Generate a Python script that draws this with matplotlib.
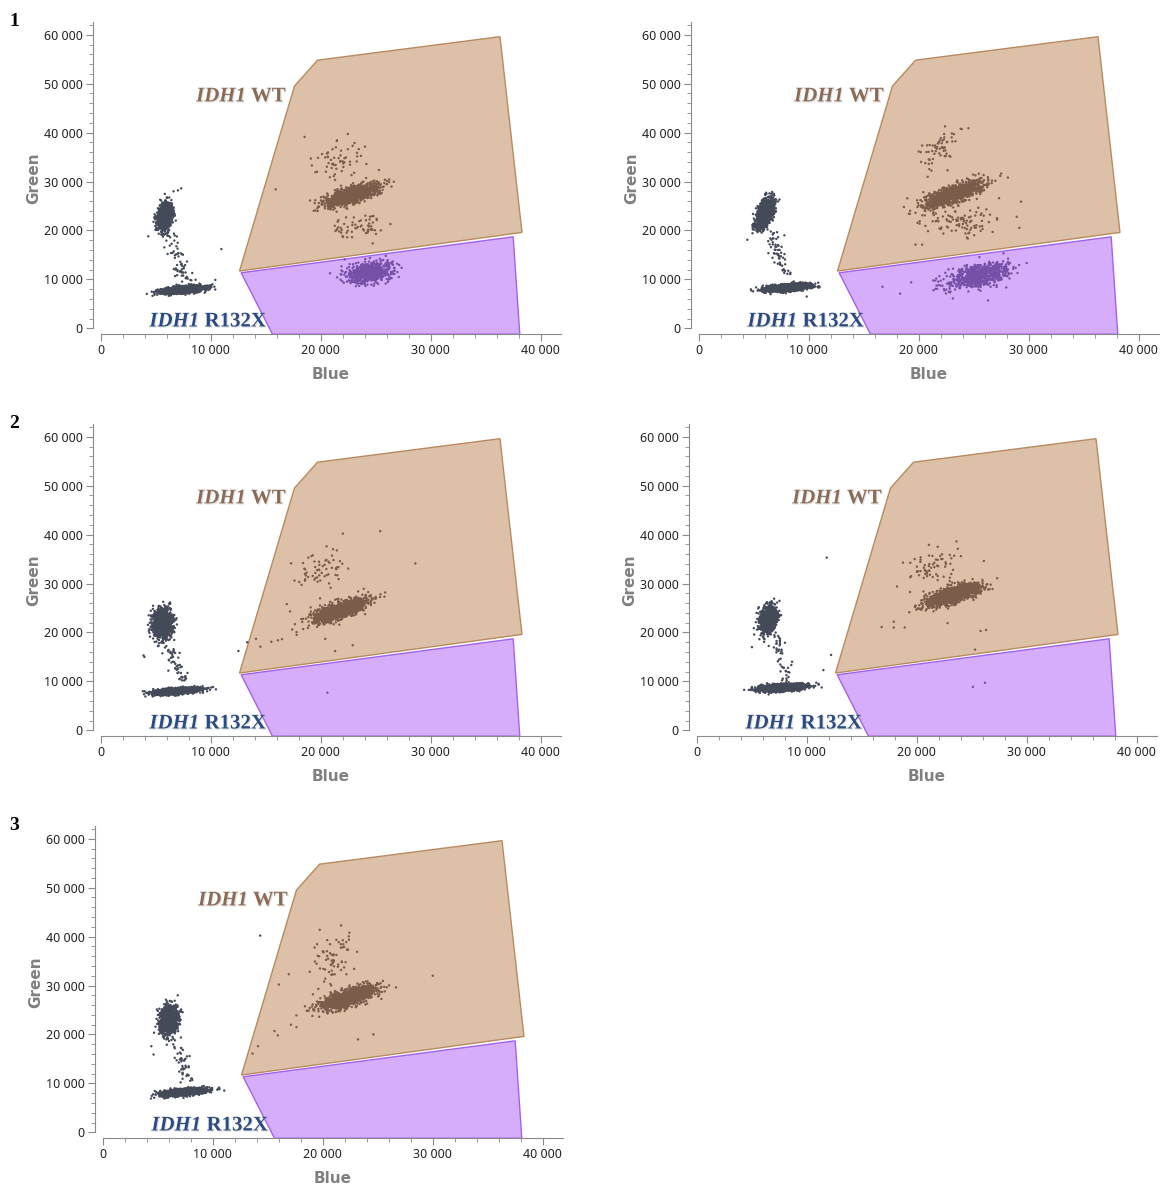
import numpy as np
import matplotlib.pyplot as plt
import matplotlib.patheffects as pe
from matplotlib.path import Path
from matplotlib.patches import Polygon
from matplotlib.ticker import MultipleLocator, FuncFormatter

# gates (Blue, Green) as drawn by the droplet reader
wt_gate_x = [12600, 17600, 19700, 36300, 38300]
wt_gate_y = [11700, 49500, 54800, 59600, 19600]
mut_gate_x = [12750, 37500, 38100, 15600]
mut_gate_y = [11350, 18700, -1200, -1200]

# droplet clouds per panel: (blue, green, sd blue, sd green, corr, count)
p1_clouds = [(7500, 7900, 900, 380, 0.5, 1500), (5800, 23000, 330, 1300, 0.2, 1100),
             (22900, 27300, 1150, 1050, 0.68, 1200), (21700, 34800, 1200, 2100, 0.0, 60),
             (23500, 20800, 1500, 1200, 0.0, 60), (24400, 11400, 1050, 1100, 0.3, 650)]
p2_clouds = [(8000, 8300, 1000, 380, 0.5, 1500), (6000, 23500, 380, 1500, 0.5, 1100),
             (23200, 27500, 1300, 1300, 0.75, 1200), (22000, 36800, 800, 1800, 0.3, 60),
             (24000, 22000, 1800, 1800, 0.0, 100), (25500, 10800, 1400, 1300, 0.5, 750)]
p3_clouds = [(6800, 8000, 1000, 350, 0.5, 1500), (5600, 21800, 430, 1500, 0.0, 1100),
             (21700, 24500, 1250, 1200, 0.72, 1200), (20000, 32500, 1100, 2000, 0.3, 60)]
p4_clouds = [(7700, 8700, 1000, 380, 0.4, 1500), (6500, 22700, 400, 1300, 0.3, 1100),
             (23300, 27700, 1200, 1150, 0.7, 1200), (21700, 33500, 1300, 1700, 0.3, 60)]
p5_clouds = [(7300, 8200, 1000, 380, 0.5, 1500), (6000, 22900, 400, 1400, 0.2, 1100),
             (22300, 27500, 1250, 1200, 0.7, 1200), (21000, 35500, 1000, 2800, 0.2, 70)]

# rain between the two left clouds: (blue0, green0, blue1, green1, count)
p1_rain = (6000, 20000, 7800, 9500, 70)
p2_rain = (6400, 20000, 7800, 11000, 60)
p3_rain = (6200, 18000, 7400, 10000, 50)
p4_rain = (7000, 19500, 8200, 10500, 45)
p5_rain = (6500, 19000, 7800, 10000, 50)

# single droplets
p1_extra = [(15900, 28400), (10950, 16200), (10400, 9900), (7000, 28200), (7300, 28600),
            (6600, 28000), (4300, 18800)]
p2_extra = [(4400, 18100), (9800, 6500), (29300, 25900), (28100, 30800), (27300, 26600),
            (16700, 8500), (18300, 7100), (19300, 9400), (23100, 6100), (26300, 5700),
            (23900, 40700), (19100, 23400), (19700, 17100), (20300, 17100)]
p3_extra = [(3870, 15300), (3950, 15000), (12500, 16200), (13300, 18000), (14100, 18700),
            (14500, 17100), (15500, 18100), (16100, 18400), (20600, 7700), (22000, 40200),
            (25400, 40700), (28600, 34100), (20400, 18700), (21300, 16200), (22900, 17400),
            (17200, 24300), (17400, 20600), (17800, 19500), (17600, 30600), (16900, 25800)]
p4_extra = [(11800, 35300), (12200, 15400), (11500, 12300), (5000, 17000), (16800, 21100),
            (17900, 22200), (17900, 21000), (18900, 21000), (18200, 29400), (25300, 16500),
            (26300, 20500), (25800, 20300), (26100, 34600), (23600, 38600), (21100, 37900),
            (21900, 37500), (19800, 35000), (22800, 21900), (25100, 8900), (26200, 9700)]
p5_extra = [(4400, 17600), (4600, 15900), (10600, 8800), (6800, 28000), (14300, 40200),
            (30000, 32000), (16000, 30200), (16900, 32300), (15600, 20700), (15900, 19800),
            (14100, 17600), (13600, 16100), (23200, 19000), (24600, 20000), (17100, 22000),
            (17600, 21500), (17600, 23900), (19100, 28200)]

panels = [("1", p1_clouds, p1_rain, p1_extra), (None, p2_clouds, p2_rain, p2_extra),
          ("2", p3_clouds, p3_rain, p3_extra), (None, p4_clouds, p4_rain, p4_extra),
          ("3", p5_clouds, p5_rain, p5_extra)]

# axes boxes in pixels: left, top (figure is 1160 x 1187)
boxes = [(101, 22), (699, 22), (101, 424), (697, 424), (103, 826)]
W, H = 1160, 1187
X_MAX, Y_MIN, Y_MAX = 41850, -1160, 62600

NEG_COL = "#454a59"
WT_COL = "#7a5c4b"
MUT_COL = "#7550a6"

rng = np.random.default_rng(11)
wt_path = Path(np.column_stack([wt_gate_x, wt_gate_y]))
mut_path = Path(np.column_stack([mut_gate_x, np.maximum(mut_gate_y, Y_MIN)]))


def droplets(clouds, rain, extra):
    pts = []
    for cx, cy, sx, sy, r, n in clouds:
        cov = [[sx * sx, r * sx * sy], [r * sx * sy, sy * sy]]
        pts.append(rng.multivariate_normal([cx, cy], cov, n))
    x0, y0, x1, y1, n = rain
    t = rng.uniform(0, 1, n)
    rp = np.column_stack([x0 + t * (x1 - x0), y0 + t * (y1 - y0)])
    pts.append(rp + rng.normal(0, [350, 500], (n, 2)))
    pts.append(np.array(extra, dtype=float))
    return np.vstack(pts)


def fmt(v, pos):
    return f"{int(v):,}".replace(",", " ")


def gate_label(ax, x, y, name, col):
    shadow = [pe.SimplePatchShadow(offset=(0.8, -0.8), shadow_rgbFace="#aaaaaa", alpha=0.35),
              pe.Normal()]
    t1 = ax.text(x, y, "IDH1", color=col, fontsize=15, fontweight="bold", style="italic",
                 family="Liberation Serif", va="center", ha="left", path_effects=shadow, zorder=5)
    ax.annotate(" " + name, xy=(1, 0), xycoords=t1, va="bottom", ha="left", color=col,
                fontsize=15, fontweight="bold", family="Liberation Serif",
                path_effects=shadow, zorder=5)


fig = plt.figure(figsize=(W / 100, H / 100), dpi=100)

for (tag, clouds, rain, extra), (left, top) in zip(panels, boxes):
    ax = fig.add_axes([left / W, 1 - (top + 312) / H, 460 / W, 312 / H])
    ax.set_xlim(0, X_MAX)
    ax.set_ylim(Y_MIN, Y_MAX)

    ax.add_patch(Polygon(np.column_stack([wt_gate_x, wt_gate_y]), closed=True,
                         facecolor="#dcc0a7", edgecolor="#b98a5f", lw=1, zorder=1))
    ax.add_patch(Polygon(np.column_stack([mut_gate_x, mut_gate_y]), closed=True,
                         facecolor="#d6adfb", edgecolor="#a262f0", lw=1, zorder=1))

    pts = droplets(clouds, rain, extra)
    in_wt = wt_path.contains_points(pts)
    in_mut = mut_path.contains_points(pts) & ~in_wt
    cols = np.where(in_wt, WT_COL, np.where(in_mut, MUT_COL, NEG_COL))
    ax.scatter(pts[:, 0], pts[:, 1], s=3, c=cols, marker="o", linewidths=0, zorder=3)

    gate_label(ax, 8650, 47400, "WT", "#8a6c56")
    gate_label(ax, 4400, 1400, "R132X", "#2b4b82")

    for s in ["top", "right"]:
        ax.spines[s].set_visible(False)
    ax.spines["left"].set_position(("outward", 6))
    ax.spines["left"].set_bounds(0, Y_MAX)
    ax.spines["bottom"].set_bounds(0, X_MAX)
    for s in ["left", "bottom"]:
        ax.spines[s].set_color("#8a8a8a")

    ax.xaxis.set_major_locator(MultipleLocator(10000))
    ax.xaxis.set_minor_locator(MultipleLocator(2000))
    ax.yaxis.set_major_locator(MultipleLocator(10000))
    ax.yaxis.set_minor_locator(MultipleLocator(2000))
    ax.xaxis.set_major_formatter(FuncFormatter(fmt))
    ax.yaxis.set_major_formatter(FuncFormatter(fmt))
    ax.tick_params(which="major", length=5, color="#8a8a8a", labelsize=9,
                   labelcolor="#222222", pad=2)
    ax.tick_params(which="minor", length=3, color="#8a8a8a")
    for lab in ax.get_xticklabels() + ax.get_yticklabels():
        lab.set_family("Noto Sans")

    ax.set_xlabel("Blue", fontsize=11, fontweight="bold", color="#808080", family="DejaVu Sans")
    ax.set_ylabel("Green", fontsize=11, fontweight="bold", color="#808080", family="DejaVu Sans")
    ax.xaxis.set_label_coords(0.5, -0.105)
    ax.yaxis.set_label_coords(-0.13, 0.5)

    if tag:
        fig.text(9 / W, 1 - top / H, tag, fontsize=14, fontweight="bold",
                 family="Liberation Serif", va="center", ha="left")

fig.savefig("out.png", dpi=100)
